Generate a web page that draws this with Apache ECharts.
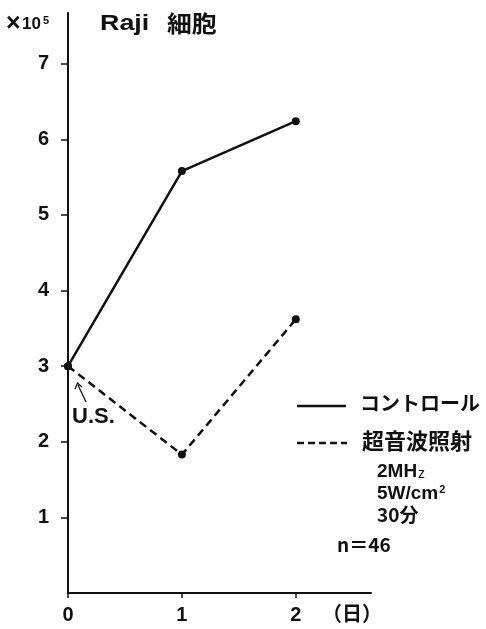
<!DOCTYPE html>
<html>
<head>
<meta charset="utf-8">
<script src="https://cdn.jsdelivr.net/npm/echarts@6/dist/echarts.min.js"></script>
<style>
  html, body { margin: 0; padding: 0; background: #fff; }
  #chart { width: 486px; height: 629px; }
</style>
</head>
<body>
<div id="chart"></div>
<script>
// Raji cell counts (×10^5) over days
const days = [0, 1, 2];
const controlCounts = [3.0, 5.58, 6.24];
const ultrasoundCounts = [3.0, 1.83, 3.62];
const yTickValues = [1, 2, 3, 4, 5, 6, 7];
const xTickValues = [0, 1, 2];

const INK = '#111';
const FONT = '"Liberation Sans", "Noto Sans CJK JP", sans-serif';
const CJK = '"Noto Sans CJK JP", sans-serif';

const chart = echarts.init(document.getElementById('chart'), null, { renderer: 'canvas' });

chart.setOption({
  backgroundColor: '#fff',
  animation: false,
  grid: { left: 68, right: 115, top: 13, bottom: 36 },
  xAxis: {
    type: 'value',
    min: 0,
    max: 2.66,
    axisLine: { show: true, onZero: false, lineStyle: { color: INK, width: 2 } },
    axisTick: { show: true, customValues: xTickValues, length: 5, lineStyle: { color: INK, width: 1.5 } },
    axisLabel: {
      customValues: xTickValues,
      margin: 12,
      color: INK,
      fontFamily: FONT,
      fontWeight: 'bold',
      fontSize: 20
    },
    splitLine: { show: false }
  },
  yAxis: {
    type: 'value',
    min: 0,
    max: 7.67,
    axisLine: { show: true, lineStyle: { color: INK, width: 2 } },
    axisTick: { show: true, customValues: yTickValues, length: 7, lineStyle: { color: INK, width: 1.5 } },
    axisLabel: {
      customValues: yTickValues,
      margin: 19,
      color: INK,
      fontFamily: FONT,
      fontWeight: 'bold',
      fontSize: 20
    },
    splitLine: { show: false }
  },
  series: [
    {
      name: 'コントロール',
      type: 'line',
      data: days.map((d, i) => [d, controlCounts[i]]),
      symbol: 'circle',
      symbolSize: 8,
      lineStyle: { color: INK, width: 2.5, type: 'solid' },
      itemStyle: { color: INK }
    },
    {
      name: '超音波照射',
      type: 'line',
      data: days.map((d, i) => [d, ultrasoundCounts[i]]),
      symbol: 'circle',
      symbolSize: 8,
      lineStyle: { color: INK, width: 2.5, type: [8, 5] },
      itemStyle: { color: INK }
    }
  ],
  graphic: [
    // unit label
    {
      type: 'text', left: 6, top: 12,
      style: { text: '×', fill: INK, font: 'bold 25px ' + FONT }
    },
    {
      type: 'text', left: 22, top: 15,
      style: {
        text: '10{sup|5}',
        fill: INK,
        font: 'bold 17px ' + FONT,
        rich: { sup: { fontSize: 11, fontWeight: 'bold', fontFamily: FONT, verticalAlign: 'top', padding: [0, 0, 8, 2] } }
      }
    },
    // panel title
    {
      type: 'text', x: 100, y: 13, scaleX: 1.22,
      style: { text: 'Raji', fill: INK, font: 'bold 22px ' + FONT }
    },
    {
      type: 'text', x: 167, y: 12, scaleX: 1.08,
      style: { text: '細胞', fill: INK, font: 'bold 23px ' + CJK }
    },
    // day unit
    {
      type: 'text', left: 322, top: 603,
      style: { text: '（日）', fill: INK, font: 'bold 20px ' + CJK }
    },
    // U.S. marker arrow
    {
      type: 'polyline',
      shape: { points: [[86, 402], [78, 385]] },
      style: { stroke: INK, lineWidth: 1.3 }
    },
    {
      type: 'polyline',
      shape: { points: [[75, 389], [77.5, 383], [82, 387]] },
      style: { stroke: INK, lineWidth: 1.3, fill: null }
    },
    {
      type: 'text', left: 72, top: 406,
      style: { text: 'U.S.', fill: INK, font: 'bold 22px ' + FONT }
    },
    // legend: control
    {
      type: 'line',
      shape: { x1: 297, y1: 406, x2: 346, y2: 406 },
      style: { stroke: INK, lineWidth: 2.5 }
    },
    {
      type: 'text', left: 360, top: 393,
      style: { text: 'コントロール', fill: INK, font: 'bold 20px ' + CJK }
    },
    // legend: ultrasound exposure
    {
      type: 'line',
      shape: { x1: 297, y1: 443, x2: 347, y2: 443 },
      style: { stroke: INK, lineWidth: 2.5, lineDash: [7, 4] }
    },
    {
      type: 'text', left: 362, top: 430,
      style: { text: '超音波照射', fill: INK, font: 'bold 22px ' + CJK }
    },
    {
      type: 'text', left: 377, top: 462,
      style: {
        text: '2MH{sub|z}',
        fill: INK,
        font: 'bold 19px ' + FONT,
        rich: { sub: { fontSize: 14, fontWeight: 'normal', fontFamily: FONT, verticalAlign: 'bottom', padding: [0, 0, 0, 1] } }
      }
    },
    {
      type: 'text', left: 377, top: 484,
      style: {
        text: '5W/cm{sup|2}',
        fill: INK,
        font: 'bold 19px ' + FONT,
        rich: { sup: { fontSize: 11, fontWeight: 'bold', fontFamily: FONT, verticalAlign: 'top', padding: [0, 0, 9, 1] } }
      }
    },
    {
      type: 'text', left: 377, top: 505,
      style: { text: '30分', fill: INK, font: 'bold 19px ' + CJK }
    },
    {
      type: 'text', left: 337, top: 535,
      style: { text: 'n＝46', fill: INK, font: 'bold 19px ' + CJK }
    }
  ]
});
</script>
</body>
</html>
